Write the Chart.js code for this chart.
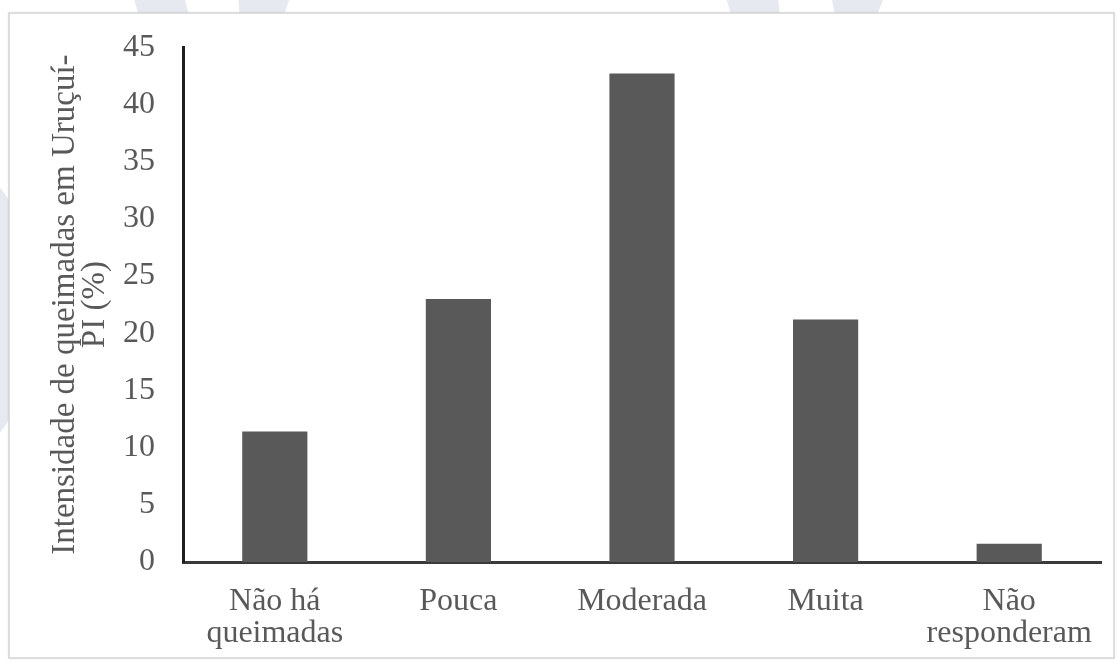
<!DOCTYPE html>
<html>
<head>
<meta charset="utf-8">
<script src="https://cdn.jsdelivr.net/npm/chart.js@4.4.1/dist/chart.umd.min.js"></script>
<style>
  html, body { margin: 0; padding: 0; background: #ffffff; }
  #wrap { width: 1118px; height: 665px; position: relative; }
</style>
</head>
<body>
<div id="wrap"><canvas id="chart" width="1118" height="665"></canvas></div>
<script>
// Categories (multi-line labels) and percentages
const categories = [
  ["Não há", "queimadas"],
  "Pouca",
  "Moderada",
  "Muita",
  ["Não", "responderam"]
];
const percentages = [11.4, 23.0, 42.7, 21.2, 1.6];
const yTickValues = [0, 5, 10, 15, 20, 25, 30, 35, 40, 45];
const yTitleLines = ["Intensidade de queimadas em Uruçuí-", "PI (%)"];

const serif = "'Liberation Serif', 'Times New Roman', serif";
const textGray = "#595959";

// Page backdrop: faint diagonal stripes and a white framed panel
const framePlugin = {
  id: "frame",
  beforeDraw(chart) {
    const ctx = chart.ctx;
    ctx.save();
    ctx.fillStyle = "#ffffff";
    ctx.fillRect(0, 0, chart.width, chart.height);

    ctx.fillStyle = "#e7e9f1";
    const stripes = [
      [[133, -5], [184, -5], [190, 20], [140, 20]],
      [[238, -5], [291, -5], [282, 20], [240, 20]],
      [[725, -5], [778, -5], [780, 20], [733, 20]],
      [[831, -5], [885, -5], [875, 20], [836, 20]],
      [[-5, 180], [9, 200], [9, 420], [-5, 440]]
    ];
    stripes.forEach(p => {
      ctx.beginPath();
      ctx.moveTo(p[0][0], p[0][1]);
      for (let i = 1; i < p.length; i++) ctx.lineTo(p[i][0], p[i][1]);
      ctx.closePath();
      ctx.fill();
    });

    // panel with soft grey edge
    ctx.shadowColor = "rgba(0,0,0,0.12)";
    ctx.shadowBlur = 3;
    ctx.fillStyle = "#ffffff";
    ctx.fillRect(9, 13, 1105, 645);
    ctx.shadowBlur = 0;
    ctx.strokeStyle = "#d4d4d4";
    ctx.lineWidth = 1.5;
    ctx.strokeRect(9, 13, 1105, 645);
    ctx.restore();
  }
};

new Chart(document.getElementById("chart"), {
  type: "bar",
  data: {
    labels: categories,
    datasets: [{
      data: percentages,
      backgroundColor: "#595959",
      borderWidth: 0,
      barPercentage: 0.355,
      categoryPercentage: 1.0
    }]
  },
  options: {
    responsive: false,
    animation: false,
    events: [],
    layout: { padding: { left: 0, top: 45, right: 17, bottom: 0 } },
    plugins: {
      legend: { display: false },
      tooltip: { enabled: false }
    },
    scales: {
      x: {
        offset: true,
        grid: { display: false, drawTicks: false },
        border: { display: true, color: "#3a3a3a", width: 3 },
        ticks: {
          color: textGray,
          padding: 24,
          maxRotation: 0,
          autoSkip: false,
          font: { family: serif, size: 32, lineHeight: 1.0 }
        },
        afterFit(scale) { scale.height = 103; }
      },
      y: {
        min: 0,
        max: 45,
        grid: { display: false, drawTicks: false },
        border: { display: true, color: "#1e1e1e", width: 3 },
        afterBuildTicks(scale) {
          scale.ticks = yTickValues.map(v => ({ value: v }));
        },
        ticks: {
          color: textGray,
          padding: 28,
          font: { family: serif, size: 32 },
          callback: v => String(v)
        },
        title: {
          display: true,
          text: yTitleLines,
          color: textGray,
          padding: { top: 50, bottom: 0 },
          font: { family: serif, size: 33, lineHeight: 0.92 }
        },
        afterFit(scale) { scale.width = 183; }
      }
    }
  },
  plugins: [framePlugin]
});
</script>
</body>
</html>
